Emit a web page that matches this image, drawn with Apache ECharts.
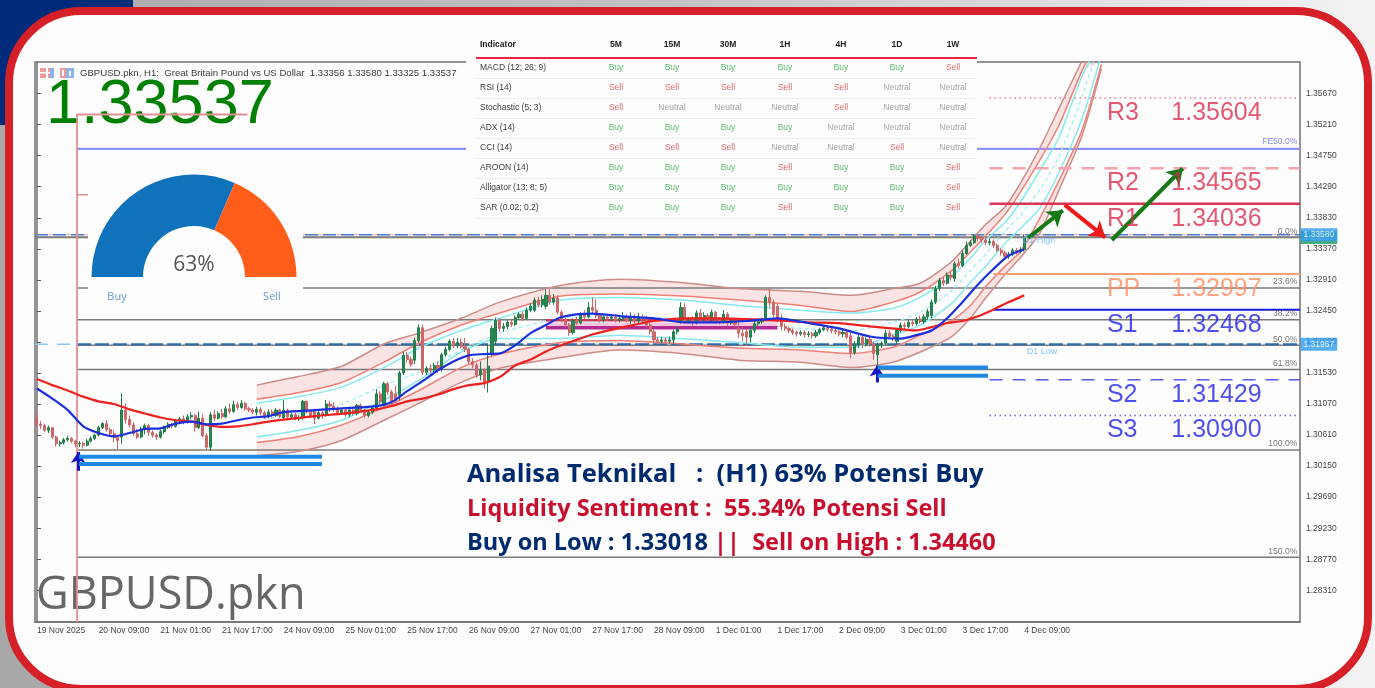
<!DOCTYPE html>
<html>
<head>
<meta charset="utf-8">
<title>GBPUSD.pkn H1</title>
<style>html,body{margin:0;padding:0;background:#fff}#chart{width:1375px;height:688px}</style>
<script src="https://cdn.jsdelivr.net/npm/echarts@6/dist/echarts.min.js"></script>
</head>
<body>
<div id="chart"></div>
<script>
// prices below are in 1/10000 units (13354 = 1.3354)

// hourly candles: open, close, low, high
const candleRows = [
[13086,13077,13071,13098],[13077,13075,13070,13082],[13075,13068,13065,13078],[13068,13072,13064,13075],
[13072,13058,13055,13073],[13058,13048,13044,13060],[13048,13050,13044,13053],[13050,13054,13047,13057],
[13054,13056,13051,13060],[13056,13052,13049,13058],[13052,13048,13043,13054],[13048,13049,13043,13052],
[13049,13046,13041,13051],[13046,13052,13044,13055],[13052,13056,13050,13059],[13056,13061,13054,13063],
[13061,13072,13059,13075],[13072,13078,13070,13080],[13078,13069,13066,13083],[13069,13063,13060,13072],
[13063,13057,13050,13068],[13057,13053,13040,13060],[13058,13098,13048,13123],[13098,13084,13078,13108],
[13084,13076,13072,13090],[13076,13063,13060,13080],[13063,13058,13055,13070],[13058,13070,13056,13073],
[13070,13075,13062,13078],[13075,13065,13060,13078],[13065,13061,13057,13068],[13061,13058,13054,13064],
[13058,13066,13056,13069],[13066,13072,13063,13075],[13072,13077,13070,13080],[13077,13074,13071,13079],
[13074,13082,13072,13085],[13082,13085,13079,13088],[13085,13080,13077,13090],[13080,13088,13078,13092],
[13088,13090,13084,13095],[13090,13072,13066,13092],[13072,13086,13070,13096],[13086,13060,13058,13092],
[13060,13043,13040,13064],[13043,13091,13038,13095],[13091,13086,13082,13098],[13086,13093,13084,13096],
[13093,13088,13085,13100],[13088,13100,13086,13104],[13100,13096,13092,13108],[13096,13106,13094,13112],
[13106,13102,13098,13110],[13102,13108,13100,13113],[13108,13100,13097,13110],[13100,13098,13095,13103],
[13098,13095,13092,13101],[13095,13099,13090,13103],[13099,13094,13090,13102],[13094,13088,13085,13097],
[13088,13095,13086,13099],[13095,13090,13087,13099],[13090,13098,13088,13101],[13098,13089,13086,13100],
[13087,13098,13084,13113],[13098,13088,13085,13100],[13088,13091,13085,13094],[13091,13085,13083,13094],
[13085,13087,13082,13091],[13087,13111,13084,13113],[13111,13096,13093,13112],[13096,13090,13086,13099],
[13096,13086,13077,13100],[13086,13094,13084,13098],[13094,13090,13085,13097],[13090,13107,13088,13113],
[13107,13104,13095,13112],[13104,13101,13096,13110],[13100,13094,13091,13103],[13094,13098,13092,13101],
[13098,13091,13088,13101],[13091,13098,13088,13103],[13098,13093,13090,13100],[13093,13105,13090,13107],
[13105,13098,13095,13108],[13098,13090,13087,13100],[13090,13095,13087,13098],[13095,13101,13092,13104],
[13101,13122,13098,13129],[13122,13110,13106,13126],[13105,13137,13103,13140],[13137,13125,13120,13140],
[13125,13110,13106,13128],[13122,13112,13108,13134],[13120,13153,13112,13156],[13153,13179,13150,13184],
[13179,13173,13168,13184],[13173,13166,13162,13177],[13172,13201,13166,13205],[13201,13220,13198,13225],
[13220,13154,13150,13225],[13154,13160,13150,13163],[13160,13157,13152,13166],[13157,13164,13154,13168],
[13164,13158,13153,13170],[13158,13180,13155,13183],[13180,13188,13177,13192],[13188,13200,13185,13203],
[13200,13193,13190,13205],[13193,13198,13190,13205],[13198,13192,13189,13204],[13192,13188,13184,13205],
[13188,13170,13166,13190],[13170,13165,13160,13175],[13165,13150,13146,13168],[13150,13157,13142,13170],
[13157,13140,13130,13160],[13140,13163,13124,13197],[13182,13219,13178,13223],[13200,13231,13195,13235],
[13231,13219,13214,13234],[13219,13222,13214,13227],[13222,13228,13218,13231],[13228,13225,13221,13232],
[13225,13235,13222,13238],[13235,13240,13232,13243],[13240,13234,13230,13244],[13234,13246,13232,13250],
[13246,13252,13243,13256],[13246,13261,13243,13265],[13261,13254,13250,13266],[13254,13262,13250,13268],
[13252,13268,13248,13277],[13268,13258,13254,13277],[13258,13264,13254,13270],[13264,13243,13240,13268],
[13243,13232,13228,13246],[13232,13224,13220,13235],[13224,13213,13208,13227],[13213,13231,13210,13234],
[13231,13227,13224,13236],[13227,13240,13225,13243],[13240,13236,13232,13246],[13236,13250,13234,13258],
[13250,13246,13240,13265],[13246,13238,13234,13262],[13238,13232,13228,13241],[13232,13236,13228,13240],
[13236,13234,13230,13240],[13234,13236,13230,13240],[13236,13231,13228,13240],[13231,13234,13228,13238],
[13234,13236,13230,13243],[13236,13231,13228,13240],[13231,13236,13226,13243],[13236,13230,13226,13240],
[13230,13236,13226,13242],[13236,13232,13228,13240],[13232,13224,13220,13238],[13224,13214,13210,13227],
[13214,13202,13198,13217],[13202,13200,13196,13206],[13200,13202,13197,13206],[13202,13200,13196,13206],
[13200,13202,13196,13207],[13202,13214,13196,13217],[13214,13218,13210,13222],[13231,13250,13226,13258],
[13250,13230,13226,13256],[13230,13232,13226,13236],[13232,13227,13222,13237],[13227,13242,13225,13246],
[13242,13235,13230,13248],[13235,13238,13228,13243],[13238,13232,13228,13241],[13232,13243,13228,13247],
[13243,13233,13229,13245],[13233,13230,13225,13236],[13230,13240,13226,13246],[13240,13227,13222,13243],
[13227,13230,13224,13234],[13230,13225,13220,13233],[13219,13212,13205,13228],[13212,13208,13200,13222],
[13214,13206,13193,13218],[13206,13216,13198,13220],[13216,13226,13212,13230],[13226,13229,13222,13232],
[13229,13231,13226,13235],[13234,13265,13230,13268],[13265,13258,13250,13280],[13258,13240,13236,13262],
[13252,13232,13228,13256],[13232,13222,13216,13240],[13222,13219,13215,13226],[13219,13216,13212,13222],
[13216,13213,13209,13219],[13213,13211,13207,13216],[13211,13213,13208,13216],[13213,13210,13206,13216],
[13210,13211,13206,13215],[13211,13208,13204,13214],[13208,13213,13205,13217],[13213,13217,13210,13220],
[13217,13220,13215,13224],[13220,13218,13214,13222],[13218,13216,13212,13222],[13216,13214,13210,13219],
[13214,13211,13207,13218],[13211,13213,13206,13217],[13213,13206,13203,13217],[13208,13183,13175,13216],
[13183,13196,13180,13200],[13196,13206,13190,13209],[13206,13195,13190,13210],[13195,13203,13192,13206],
[13203,13196,13192,13208],[13196,13182,13172,13200],[13180,13195,13165,13198],[13195,13197,13190,13200],
[13197,13212,13194,13217],[13212,13207,13203,13216],[13207,13205,13200,13211],[13200,13216,13196,13220],
[13216,13224,13213,13228],[13224,13222,13218,13228],[13222,13228,13219,13232],[13228,13226,13222,13232],
[13226,13233,13223,13236],[13233,13229,13226,13238],[13229,13236,13226,13240],[13236,13244,13232,13248],
[13238,13258,13234,13262],[13258,13278,13255,13282],[13278,13290,13275,13294],[13290,13286,13282,13295],
[13286,13298,13284,13302],[13298,13295,13290,13304],[13293,13315,13288,13318],[13315,13312,13308,13322],
[13312,13330,13310,13335],[13330,13342,13328,13348],[13342,13346,13340,13350],[13346,13356,13344,13358],
[13356,13352,13348,13358],[13352,13350,13346,13355],[13350,13346,13342,13353],[13346,13348,13342,13352],
[13348,13342,13338,13351],[13342,13335,13332,13345],[13335,13331,13327,13338],[13331,13326,13322,13334],
[13326,13329,13322,13332],[13329,13335,13326,13338],[13335,13333,13329,13338],[13333,13336,13330,13340],
[13336,13354,13333,13358]
];

// moving averages, sampled at these bar numbers
const maBars = [0,4,8,12,16,20,24,28,32,36,40,44,48,52,56,60,64,72,80,88,92,96,100,104,108,112,116,120,124,128,132,136,144,152,160,168,176,184,192,200,208,216,224,228,232,236,240,244,248,252,256];
const blueMa = [13130,13115,13098,13074,13064,13059,13064,13070,13071,13078,13081,13077,13078,13083,13087,13089,13095,13098,13101,13104,13110,13126,13141,13157,13170,13179,13181,13182,13194,13212,13224,13236,13241,13237,13234,13228,13228,13230,13234,13227,13219,13207,13204,13209,13216,13234,13258,13284,13307,13327,13336];
const redMa = [13144,13135,13127,13118,13111,13107,13099,13093,13087,13083,13081,13076,13073,13074,13077,13081,13084,13089,13093,13099,13104,13111,13115,13121,13129,13135,13138,13147,13164,13173,13185,13194,13210,13221,13230,13234,13234,13233,13231,13228,13227,13222,13218,13216,13221,13227,13230,13237,13247,13258,13268];

// channel around price, sampled at these bar numbers
const bandBars = [57,68,79,90,99,110,120,136,151,167,182,198,211,222,229,237,242,246,251,255,260,265,271,276];
const outerUpper = [13135,13148,13163,13196,13212,13234,13258,13283,13292,13287,13278,13274,13268,13278,13286,13317,13348,13373,13399,13434,13486,13545,13616,13676];
const innerUpper = [13114,13124,13139,13169,13197,13224,13242,13267,13270,13267,13261,13253,13244,13258,13273,13304,13332,13356,13388,13421,13468,13520,13601,13658];
const cyanUpper = [13108,13118,13132,13161,13190,13216,13234,13261,13265,13261,13253,13246,13242,13249,13265,13295,13323,13350,13376,13406,13453,13502,13593,13646];
const bandMiddle = [13083,13093,13107,13135,13154,13187,13212,13234,13237,13233,13227,13219,13216,13228,13243,13274,13305,13329,13363,13387,13424,13474,13563,13649];
const cyanLower = [13058,13068,13083,13113,13142,13184,13204,13204,13209,13204,13198,13191,13191,13209,13224,13255,13287,13311,13345,13367,13397,13450,13530,13624];
const innerLower = [13050,13059,13076,13102,13127,13161,13181,13198,13201,13196,13190,13187,13182,13191,13209,13230,13253,13281,13311,13333,13382,13438,13513,13610];
const outerLower = [13030,13037,13053,13083,13108,13139,13160,13176,13187,13182,13172,13169,13161,13169,13184,13206,13234,13264,13299,13324,13360,13424,13505,13604];

// axis ticks
const barCount = 328;
const timeLabels = ['19 Nov 2025','20 Nov 09:00','21 Nov 01:00','21 Nov 17:00','24 Nov 09:00','25 Nov 01:00','25 Nov 17:00','26 Nov 09:00','27 Nov 01:00','27 Nov 17:00','28 Nov 09:00','1 Dec 01:00','1 Dec 17:00','2 Dec 09:00','3 Dec 01:00','3 Dec 17:00','4 Dec 09:00'];
const priceTicks = [1.3567,1.3521,1.3475,1.3429,1.3383,1.3337,1.3291,1.3245,1.3199,1.3153,1.3107,1.3061,1.3015,1.2969,1.2923,1.2877,1.2831];

// pivots
const pivotNames = ['R3','R2','R1','PP','S1','S2','S3'];
const pivotValues = [1.35604,1.34565,1.34036,1.32997,1.32468,1.31429,1.309];

// fibonacci levels
const fibNames = ['0.0%','23.6%','38.2%','50.0%','61.8%','100.0%','150.0%'];
const fibValues = [13354,13279,13232,13194,13158,13039,12880];
const feLevel = 13485;
const d1High = 1.3358;
const d1Low = 1.31957;
const lastPrice = 1.33537;

// table
const tableHead = ['Indicator','5M','15M','30M','1H','4H','1D','1W'];
const tableNames = ['MACD (12; 26; 9)','RSI (14)','Stochastic (5; 3)','ADX (14)','CCI (14)','AROON (14)','Alligator (13; 8; 5)','SAR (0.02; 0.2)'];
const tableCells = [
['Buy','Buy','Buy','Buy','Buy','Buy','Sell'],
['Sell','Sell','Sell','Sell','Sell','Neutral','Neutral'],
['Sell','Neutral','Neutral','Neutral','Sell','Neutral','Neutral'],
['Buy','Buy','Buy','Buy','Neutral','Neutral','Neutral'],
['Sell','Sell','Sell','Neutral','Neutral','Sell','Neutral'],
['Buy','Buy','Buy','Sell','Buy','Buy','Sell'],
['Buy','Buy','Buy','Buy','Buy','Buy','Sell'],
['Buy','Buy','Buy','Sell','Buy','Buy','Sell']
];

// gauge
const gaugeNames = ['Buy','Sell'];
const gaugeValues = [63,37];

const px = v => v / 10000;
const FONT = '"Liberation Sans", Arial, sans-serif';
const GRID = {left: 35, top: 62, width: 1265, height: 560};
const lastBar = barCount - 1 + 0.5;
const frameBar = 10.4;   // the red bracket and fib lines start here

function curve(bars, vals, color, width, z, type) {
    return {
        type: 'line', xAxisIndex: 1, silent: true, showSymbol: false, smooth: 0.25, z: z,
        data: bars.map((b, i) => [b, px(vals[i])]),
        lineStyle: {color: color, width: width, type: type || 'solid'}
    };
}
function level(from, to, value, color, width, type, z) {
    return {
        type: 'line', xAxisIndex: 1, silent: true, showSymbol: false, z: z || 2,
        data: [[from, value], [to, value]],
        lineStyle: {color: color, width: width, type: type || 'solid'}
    };
}
function bandFill(upper, lower) {
    return {
        type: 'custom', xAxisIndex: 1, silent: true, z: 1, data: [[0, 0]],
        renderItem: function (params, api) {
            const top = upper.map((v, i) => api.coord([bandBars[i], px(v)]));
            const bot = lower.map((v, i) => api.coord([bandBars[i], px(v)])).reverse();
            const c = params.coordSys;
            return {
                type: 'polygon',
                shape: {points: echarts.graphic.clipPointsByRect(top.concat(bot), {x: c.x, y: c.y, width: c.width, height: c.height})},
                style: {fill: 'rgba(232,110,110,0.18)'}
            };
        }
    };
}
function arrow(from, to, color, width, size) {
    return {
        type: 'line', xAxisIndex: 1, data: [], silent: true, z: 6,
        markLine: {
            silent: true, animation: false, symbol: ['none', 'arrow'], symbolSize: size,
            label: {show: false}, lineStyle: {color: color, width: width, type: 'solid'},
            data: [[{coord: from}, {coord: to}]]
        }
    };
}
function labelAt(bar, value, text, labelStyle) {
    return {
        type: 'scatter', xAxisIndex: 1, silent: true, z: 7, symbolSize: 1, clip: false,
        itemStyle: {color: 'transparent'},
        data: [[bar, value]],
        label: Object.assign({show: true, formatter: () => text, fontFamily: FONT}, labelStyle)
    };
}

const pivotColor = ['#dc2e50','#dc2e50','#dc2e50','#ff8c60','#2323e6','#2323e6','#2323e6'];
const pivotLine = ['#f0788a','#f4a2ad','#d83552','#ff9f78','#1a1ae0','#5a5af5','#6060f0'];
const pivotWidth = [1.5,2.5,2.5,2,2,1.5,1.5];
const pivotType = [[1.5,3.5],[13,10],'solid','solid','solid',[13,10],[1.5,3.5]];
const pivotFrom = [247,247,247,248,248,247,247];

const series = [];

series.push(bandFill(outerUpper, innerUpper), bandFill(innerLower, outerLower));
series.push(level(-0.5, lastBar, px(fibValues[0]), '#7a7a7a', 2));
fibValues.slice(1).forEach(v => series.push(level(frameBar, lastBar, px(v), '#7a7a7a', 1.5)));
series.push(level(frameBar, lastBar, px(feLevel), '#8f8ff5', 2.2));

series.push(level(-0.5, lastBar, d1High, '#f0b4b4', 1.2));
series.push(level(-0.5, lastBar, d1High, '#4f7fd0', 1.5, [13, 5]));
series.push(level(-0.5, frameBar, d1Low, '#8cc4f5', 1.5, [13, 9]));
series.push(level(frameBar, lastBar, d1Low, '#2a6db0', 2, [14, 4]));

pivotValues.forEach((v, i) => series.push(level(pivotFrom[i], lastBar, v, pivotLine[i], pivotWidth[i], pivotType[i], 3)));

series.push(curve(bandBars, outerUpper, '#cc8c88', 1.5, 2));
series.push(curve(bandBars, innerUpper, '#ef8078', 1.5, 2));
series.push(curve(bandBars, cyanUpper, '#86e9ee', 1.5, 2));
series.push(curve(bandBars, bandMiddle, '#9eeef2', 1.3, 2, [4, 3]));
series.push(curve(bandBars, cyanLower, '#86e9ee', 1.5, 2));
series.push(curve(bandBars, innerLower, '#ef8078', 1.5, 2));
series.push(curve(bandBars, outerLower, '#cc8c88', 1.5, 2));

// consolidation zone
series.push(level(132, 192, px(13231), '#c43a5c', 2.5, 'solid', 4));
series.push(level(132, 192, px(13225), '#f3c6dd', 4, 'solid', 3));
series.push(level(132, 192, px(13220), '#b32b90', 3.5, 'solid', 4));

series.push({
    type: 'candlestick', xAxisIndex: 0, silent: true, z: 5, barWidth: 2.6,
    data: candleRows.map(r => r.map(px)),
    itemStyle: {color: '#2c8a55', color0: '#cf6b6b', borderColor: '#1f7d49', borderColor0: '#cc6666', borderWidth: 1}
});

series.push(curve(maBars, redMa, '#ee2020', 2.2, 6));
series.push(curve(maBars, blueMa, '#1c2fdc', 2.2, 6));

// bracket on the left
series.push({
    type: 'line', xAxisIndex: 1, silent: true, showSymbol: false, z: 4,
    data: [[54.6, px(13536)], [frameBar, px(13536)], [frameBar, 1.2784]],
    lineStyle: {color: '#e39090', width: 1.8}
});
series.push(level(frameBar, 13.3, px(13417), '#e88c8c', 1.5));

// buy arrows with their fans
[[frameBar + 0.5, 73.9, 13029, 13018, 13008, 13036], [218, 246.6, 13161, 13149, 13139, 13164]].forEach(f => {
    series.push(level(f[0], f[1], px(f[2]), '#1e88e5', 4, 'solid', 5));
    series.push(level(f[0], f[1], px(f[3]), '#1e88e5', 4, 'solid', 5));
    series.push(arrow([f[0] - 0.2, px(f[4])], [f[0] - 0.2, px(f[5])], '#1616c8', 3, 11));
});

// forecast path
series.push(arrow([257, px(13353)], [266, px(13394)], '#157a15', 4, 15));
series.push(arrow([266.5, px(13402)], [277, px(13354)], '#f01a1a', 4, 15));
series.push(arrow([278.7, px(13350)], [297.1, px(13456)], '#157a15', 4, 15));

// level texts, anchored to their prices
pivotValues.forEach((v, i) => {
    const big = {position: 'right', distance: 0, offset: [0, 15], fontSize: 25, color: pivotColor[i]};
    series.push(labelAt(277.3, v, pivotNames[i], big));
    series.push(labelAt(294, v, v.toFixed(5), big));
});
fibValues.forEach((v, i) => {
    series.push(labelAt(lastBar - 0.6, px(v), fibNames[i], {position: 'left', distance: 0, offset: [0, -6], fontSize: 8.5, color: '#555'}));
});
series.push(labelAt(lastBar - 0.6, px(feLevel), 'FE50.0%', {position: 'left', distance: 0, offset: [0, -7], fontSize: 8.5, color: '#6a6af0'}));
series.push(labelAt(255.5, d1High, 'D1 High', {position: 'right', distance: 0, offset: [0, 6], fontSize: 9, color: '#6cb4ff'}));
series.push(labelAt(256.5, d1Low, 'D1 Low', {position: 'right', distance: 0, offset: [0, 7], fontSize: 9, color: '#6cb4ff'}));

// price tags on the axis
const tag = bg => ({position: 'right', distance: 0, fontSize: 8.5, color: '#fff', backgroundColor: bg, padding: [2, 3, 2, 3]});
series.push(labelAt(lastBar, lastPrice, lastPrice.toFixed(5), tag('#1c9a5c')));
series.push(labelAt(lastBar, d1High, d1High.toFixed(5), tag('#2f9bf0')));
series.push(labelAt(lastBar, d1Low, d1Low.toFixed(5), tag('#2f9bf0')));

// gauge
series.push({
    type: 'pie', silent: true, z: 60, center: [194, 277], radius: [51, 102.5],
    startAngle: 180, endAngle: 360, label: {show: false}, labelLine: {show: false},
    data: gaugeNames.map((n, i) => ({name: n, value: gaugeValues[i]})),
    color: ['#1072ba', '#ff5d1a'], itemStyle: {borderWidth: 0}
});

// page furniture and tables
const graphics = [];
const rect = (x, y, w, h, fill, z) => graphics.push({type: 'rect', silent: true, z: z, shape: {x: x, y: y, width: w, height: h}, style: {fill: fill}});
const text = (x, y, s, font, fill, z, align, extra) => graphics.push({
    type: 'text', silent: true, z: z, x: x, y: y,
    style: Object.assign({text: s, font: font, fill: fill, align: align || 'left', verticalAlign: 'middle'}, extra || {})
});

rect(0, 0, 1375, 688, new echarts.graphic.LinearGradient(0, 0, 1, 0, [{offset: 0, color: '#a8a8a8'}, {offset: 0.5, color: '#c4c4c4'}, {offset: 1, color: '#f3f3f3'}]), -20);
rect(0, 0, 133, 125, '#002a7a', -19);
graphics.push({
    type: 'rect', silent: true, z: -10,
    shape: {x: 9, y: 11, width: 1359, height: 678, r: 72},
    style: {fill: '#fdfdfd', stroke: '#d62027', lineWidth: 8}
});

// small toolbar icons
rect(40, 68, 14, 10, '#ee9a9a', 1);
rect(46, 68, 2, 10, '#fdfdfd', 1);
rect(40, 72, 14, 1.5, '#fdfdfd', 1);
rect(50, 68, 4, 10, '#8ab4e8', 1);
rect(60, 68, 6, 10, '#ee9a9a', 1);
rect(66, 68, 8, 10, '#8ab4e8', 1);
rect(62, 70, 2, 6, '#fdfdfd', 1);
rect(69, 71, 2, 5, '#fdfdfd', 1);

text(80, 73, 'GBPUSD.pkn, H1:  Great Britain Pound vs US Dollar  1.33356 1.33580 1.33325 1.33537', '9.6px ' + FONT, '#3a3a3a', 1);
text(46, 106, lastPrice.toFixed(5), '63px ' + FONT, '#008000', 1);
text(36, 596, 'GBPUSD.pkn', '45px "Open Sans", sans-serif', '#666', 1);

// gauge panel
rect(88, 165, 215, 145, '#fdfdfd', 50);
text(194, 265, gaugeValues[0] + '%', '21px "Open Sans", sans-serif', '#555', 61, 'center');
text(117, 297, gaugeNames[0], '11px "Open Sans", sans-serif', '#6a9ad0', 61, 'center');
text(272, 297, gaugeNames[1], '11px "Open Sans", sans-serif', '#6a9ad0', 61, 'center');

// indicator table
rect(466, 28, 511, 194, '#fdfdfd', 50);
const tableCols = [480, 616, 672, 728, 785, 841, 897, 953];
const cellColor = {Buy: '#5cbb6c', Sell: '#d9696f', Neutral: '#a3a3a3'};
tableHead.forEach((h, c) => text(tableCols[c], 45, h, 'bold 8.5px ' + FONT, '#222', 51, c ? 'center' : 'left'));
rect(476, 57, 501, 2, '#ee2244', 51);
tableNames.forEach((n, r) => {
    const y = 68 + 20 * r;
    text(tableCols[0], y, n, '8.5px ' + FONT, '#3c3c3c', 51);
    tableCells[r].forEach((cell, c) => text(tableCols[c + 1], y, cell, '8.5px ' + FONT, cellColor[cell], 51, 'center'));
    rect(476, y + 10, 501, 1, '#eeeeee', 51);
});

// headline block
const BOLD = 'bold 25.5px "Open Sans", sans-serif';
const MID = 'bold 23.5px "Open Sans", sans-serif';
text(467, 475, 'Analisa Teknikal   :  (H1) 63% Potensi Buy', BOLD, '#002a6e', 55);
text(467, 509, 'Liquidity Sentiment :  55.34% Potensi Sell', MID, '#c8102e', 55);
text(467, 543, '{a|Buy on Low : 1.33018 }{b|||  Sell on High : 1.34460}', MID, '#002a6e', 55, 'left', {
    rich: {a: {font: MID, fill: '#002a6e'}, b: {font: MID, fill: '#c8102e'}}
});

const myChart = echarts.init(document.getElementById('chart'));
myChart.setOption({
    animation: false,
    backgroundColor: 'transparent',
    tooltip: {show: false},
    legend: {show: false},
    grid: Object.assign({show: true, borderColor: '#707070', borderWidth: 1.5, backgroundColor: 'transparent'}, GRID),
    xAxis: [
        {
            type: 'category',
            data: Array.from({length: barCount}, (_, i) => (i % 16 === 0 && timeLabels[i / 16]) || ''),
            boundaryGap: true,
            axisLine: {lineStyle: {color: '#707070', width: 1.5}},
            axisTick: {length: 4, alignWithLabel: true, interval: i => i % 16 === 0 && i / 16 < timeLabels.length, lineStyle: {color: '#555'}},
            axisLabel: {interval: i => i % 16 === 0, align: 'left', margin: 4, fontSize: 8.5, fontFamily: FONT, color: '#444'},
            splitLine: {show: false}
        },
        {type: 'value', min: -0.5, max: barCount - 0.5, show: false, splitLine: {show: false}}
    ],
    yAxis: {
        type: 'value', position: 'right', min: 1.2784, max: 1.36138, scale: true,
        axisLine: {show: true, lineStyle: {color: '#707070', width: 1.5}},
        axisTick: {show: true, length: 4, customValues: priceTicks, lineStyle: {color: '#555'}},
        axisLabel: {customValues: priceTicks, formatter: v => v.toFixed(5), margin: 6, fontSize: 8.5, fontFamily: FONT, color: '#444'},
        splitLine: {show: false}
    },
    graphic: {elements: graphics},
    series: series
});
</script>
</body>
</html>
